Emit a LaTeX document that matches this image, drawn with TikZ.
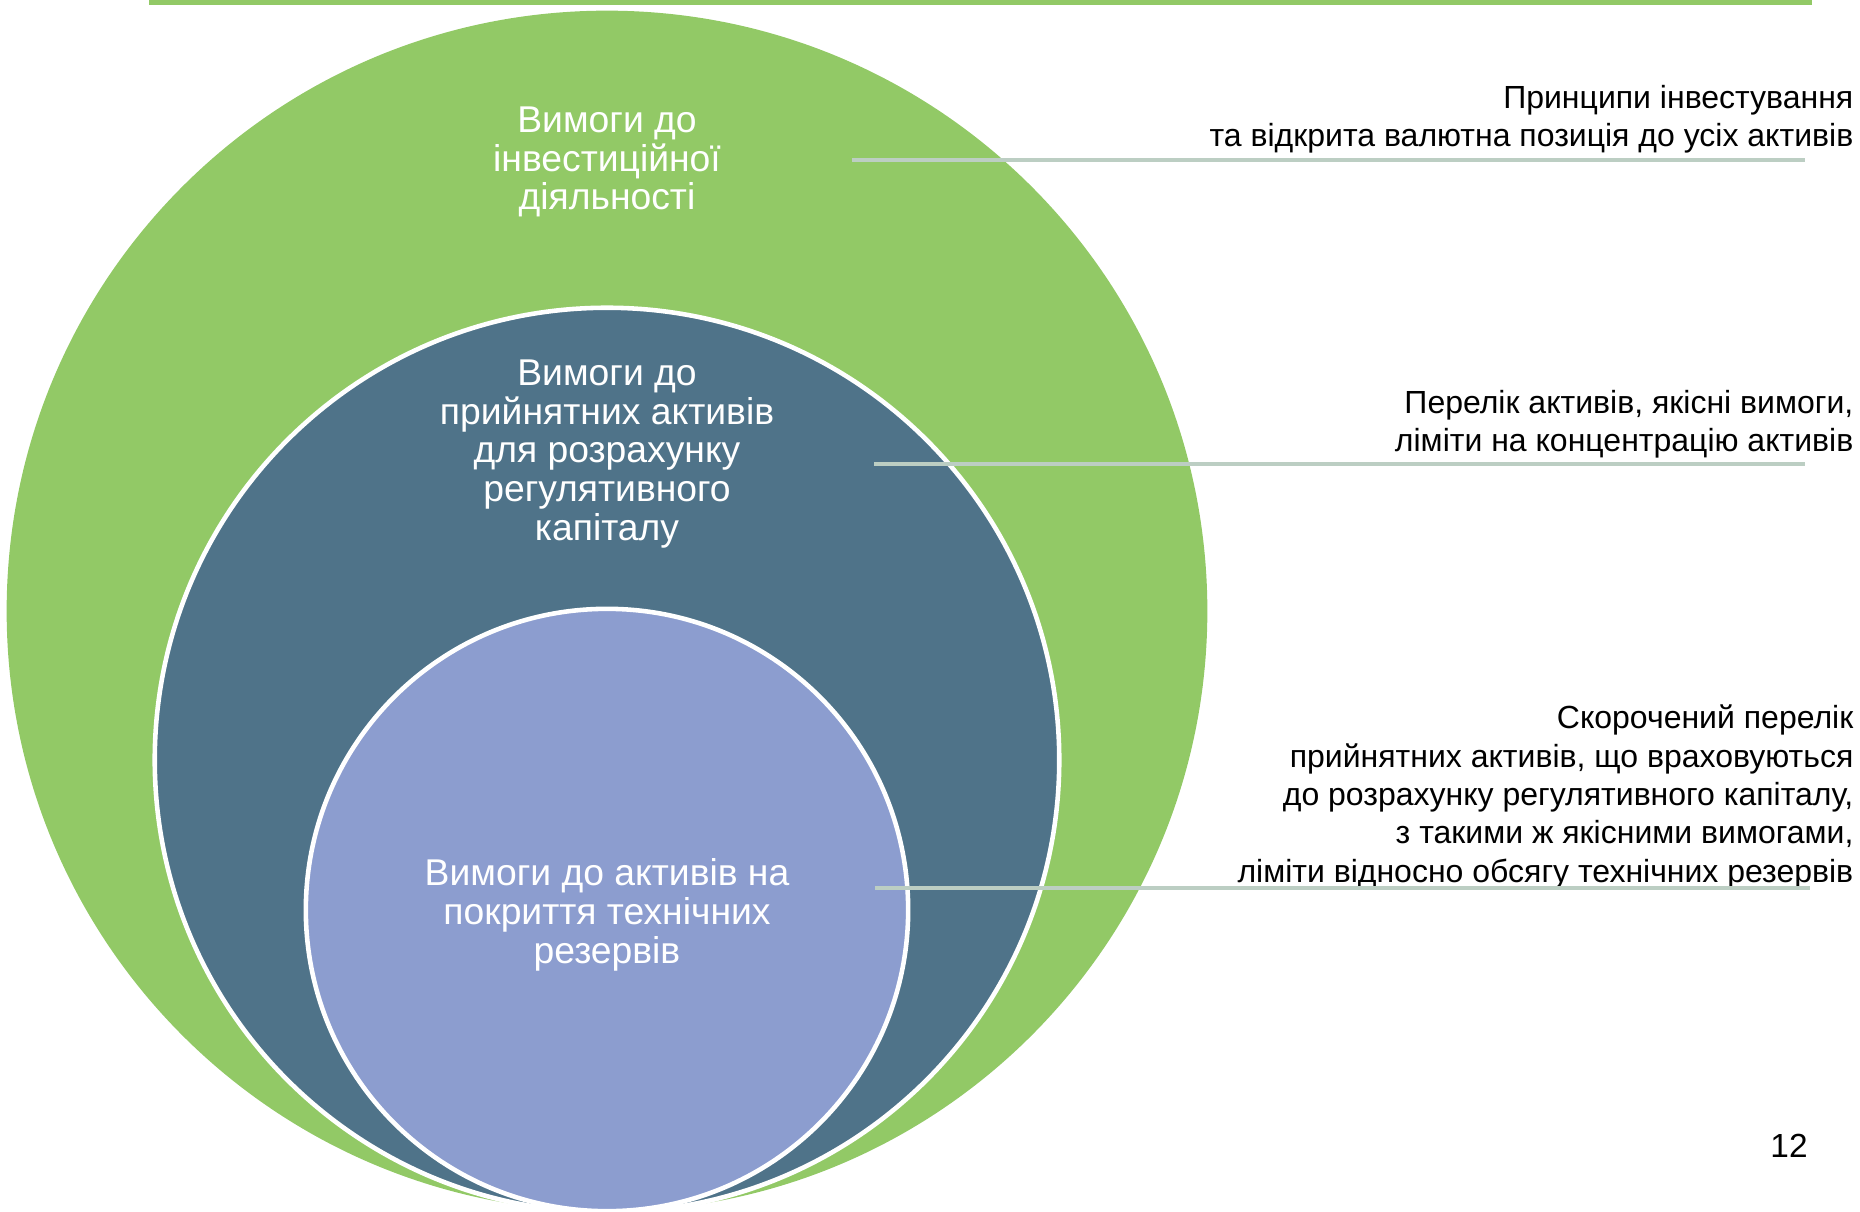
\documentclass[tikz,border=0pt]{standalone}
\usepackage{fontspec}
\setmainfont{Liberation Sans}
\usepackage{xcolor}
\definecolor{inv}{RGB}{146, 201, 102}
\definecolor{cap}{RGB}{79, 115, 137}
\definecolor{res}{RGB}{140, 157, 207}
\definecolor{lin}{RGB}{188, 206, 195}

\begin{document}
\begin{tikzpicture}[x=0.01cm, y=-0.01cm,
        disc/.style={circle, inner sep=0, draw=white, line width=1.3pt},
        intext/.style={align=center, text=white, font=\fontsize{10.6}{11}\selectfont},
        note/.style={anchor=east, align=right, inner sep=0, font=\fontsize{9.1}{10.9}\selectfont},
        leader/.style={color=lin, line width=1.4pt}]
        \useasboundingbox (0, 0) rectangle (1860, 1212);
        \fill[color=inv] (149, 0) rectangle (1812, 5);
        % nested circles
        \node[circle, inner sep=0, fill=inv, minimum size=12cm] (c1) at (607, 611) {};
        \node[disc, fill=cap, minimum size=9.04cm] (c2) at (607, 760) {};
        \node[disc, fill=res, minimum size=6.02cm] (c3) at (607, 910) {};
        \node[intext] (t1) at (607, 162) {Вимоги до\\інвестиційної\\діяльності};
        \node[intext] (t2) at (607, 454) {Вимоги до\\прийнятних активів\\для розрахунку\\регулятивного\\капіталу};
        \node[intext] (t3) at (607, 915) {Вимоги до активів на\\покриття технічних\\резервів};
        % notes on the right
        \node[note] (n1) at (1854, 119) {Принципи інвестування\\та відкрита валютна позиція до усіх активів};
        \node[note] (n2) at (1854, 424) {Перелік активів, якісні вимоги,\\ліміти на концентрацію активів};
        \node[note] (n3) at (1854, 797) {Скорочений перелік\\прийнятних активів, що враховуються\\до розрахунку регулятивного капіталу,\\з такими ж якісними вимогами,\\ліміти відносно обсягу технічних резервів};
        \coordinate (a1) at (852, 160);
        \coordinate (b1) at (1805, 160);
        \coordinate (a2) at (874, 464);
        \coordinate (b2) at (1805, 464);
        \coordinate (a3) at (875, 888);
        \coordinate (b3) at (1810, 888);
        \draw[leader] (a1) -- (b1);
        \draw[leader] (a2) -- (b2);
        \draw[leader] (a3) -- (b3);
        \node[font=\fontsize{9.5}{11}\selectfont] (p) at (1789, 1146) {12};
\end{tikzpicture}
\end{document}
